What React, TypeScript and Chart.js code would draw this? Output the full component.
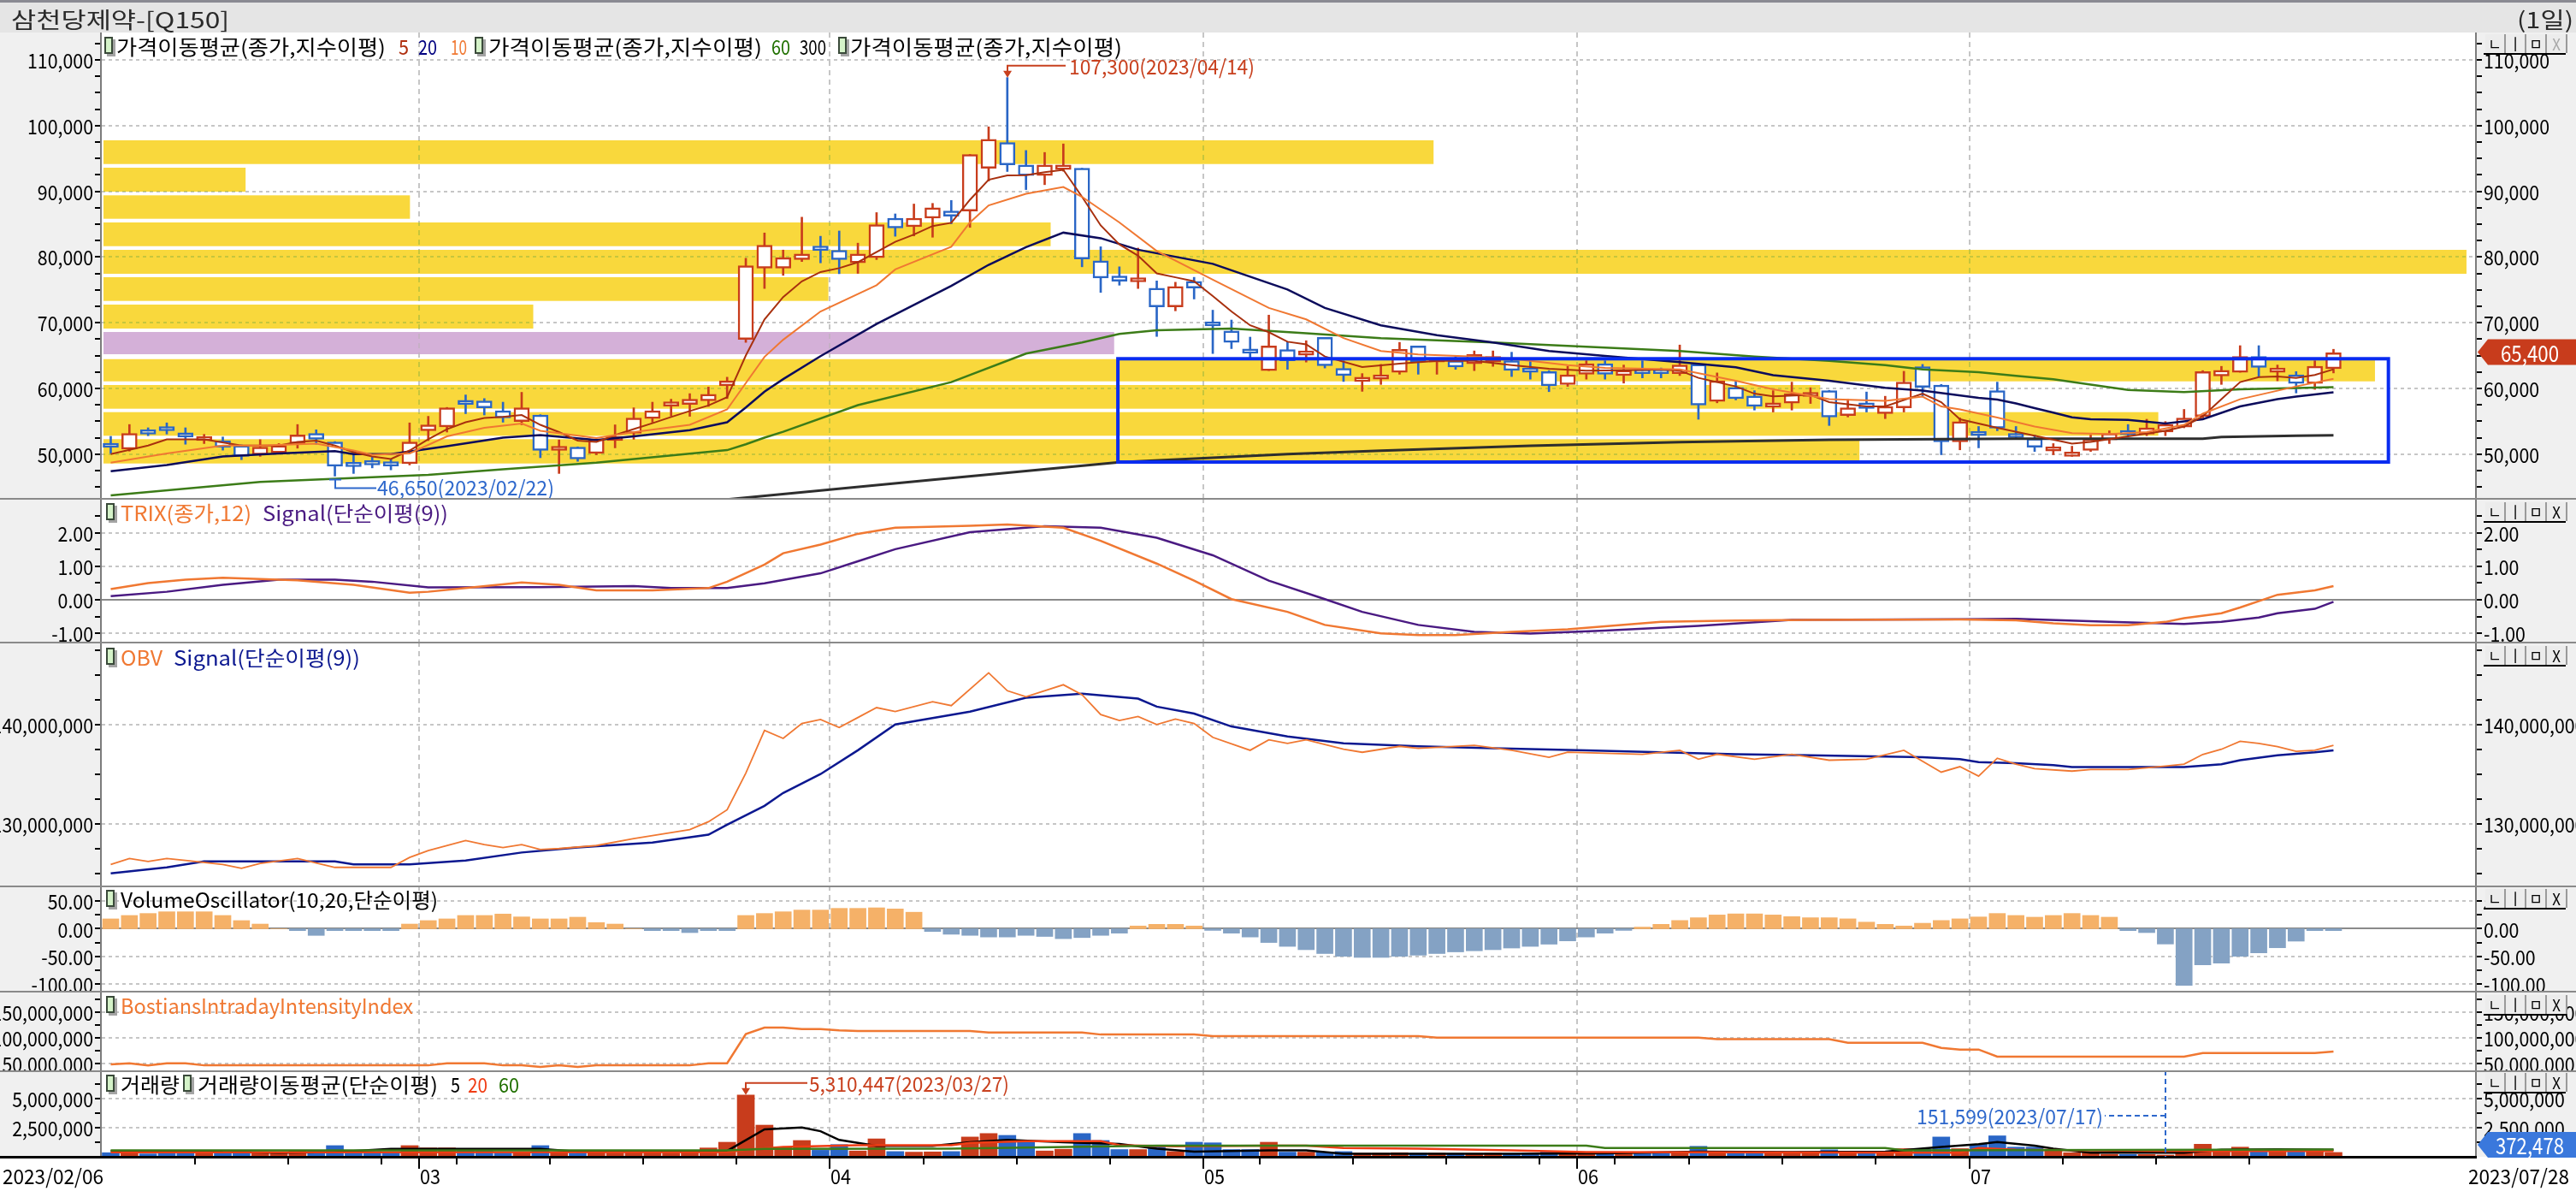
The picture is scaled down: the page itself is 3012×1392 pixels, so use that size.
import React, { useEffect, useRef } from 'react';
import { Chart, registerables } from 'chart.js';

Chart.register(...registerables);

// ------------------------------------------------------------------ data
const dates = [
  '2023/02/06','2023/02/07','2023/02/08','2023/02/09','2023/02/10','2023/02/13','2023/02/14','2023/02/15','2023/02/16','2023/02/17',
  '2023/02/20','2023/02/21','2023/02/22','2023/02/23','2023/02/24','2023/02/27','2023/02/28','2023/03/02','2023/03/03','2023/03/06',
  '2023/03/07','2023/03/08','2023/03/09','2023/03/10','2023/03/13','2023/03/14','2023/03/15','2023/03/16','2023/03/17','2023/03/20',
  '2023/03/21','2023/03/22','2023/03/23','2023/03/24','2023/03/27','2023/03/28','2023/03/29','2023/03/30','2023/03/31','2023/04/03',
  '2023/04/04','2023/04/05','2023/04/06','2023/04/07','2023/04/10','2023/04/11','2023/04/12','2023/04/13','2023/04/14','2023/04/17',
  '2023/04/18','2023/04/19','2023/04/20','2023/04/21','2023/04/24','2023/04/25','2023/04/26','2023/04/27','2023/04/28','2023/05/02',
  '2023/05/03','2023/05/04','2023/05/08','2023/05/09','2023/05/10','2023/05/11','2023/05/12','2023/05/15','2023/05/16','2023/05/17',
  '2023/05/18','2023/05/19','2023/05/22','2023/05/23','2023/05/24','2023/05/25','2023/05/26','2023/05/30','2023/05/31','2023/06/01',
  '2023/06/02','2023/06/05','2023/06/07','2023/06/08','2023/06/09','2023/06/12','2023/06/13','2023/06/14','2023/06/15','2023/06/16',
  '2023/06/19','2023/06/20','2023/06/21','2023/06/22','2023/06/23','2023/06/26','2023/06/27','2023/06/28','2023/06/29','2023/06/30',
  '2023/07/03','2023/07/04','2023/07/05','2023/07/06','2023/07/07','2023/07/10','2023/07/11','2023/07/12','2023/07/13','2023/07/14',
  '2023/07/17','2023/07/18','2023/07/19','2023/07/20','2023/07/21','2023/07/24','2023/07/25','2023/07/26','2023/07/27','2023/07/28',
];

const openP = [51400,50750,53650,54150,53150,52050,52050,51300,49900,50200,
  51600,53150,51850,48300,48700,48550,48550,53550,54150,57900,
  58100,56600,54950,55950,50550,51050,50100,52050,53150,55400,
  57300,57550,58100,60400,67450,78300,78300,79600,81250,81000,
  79100,79900,85900,84600,85900,87000,87000,93500,97400,94000,
  92400,93300,93500,79400,77100,76200,75250,72400,76300,70050,
  68750,65850,62700,65900,65050,67750,63050,61050,61400,62450,
  66450,64000,64200,63750,64000,64200,63000,62550,60600,62150,
  63750,61950,62900,62600,62250,63650,58000,60150,58850,57150,
  57750,58750,59650,55850,57800,56150,57050,63300,60500,51850,
  53200,59650,53050,52350,50450,49650,50550,52150,53300,53050,
  53350,54100,55750,61900,62450,64850,62450,62050,60750,63000];
const highP = [52700,54500,54000,54750,54000,53000,52600,51400,52200,51600,
  54500,53700,51900,50500,49650,49250,54750,55750,57100,59000,
  58450,57900,59400,56000,52150,51100,52300,54450,57050,57900,
  58350,59200,60200,61700,79800,83650,81050,86050,83150,83950,
  82100,86750,86550,88050,88150,88600,95600,99800,107300,96200,
  95900,97200,93500,81550,78500,81350,76350,76150,76900,71900,
  70400,67800,71150,67100,67250,67750,64200,62250,63650,67000,
  66450,64500,64850,65700,65700,65500,64400,62700,63350,64200,
  64200,63550,64200,63100,66600,63800,62350,61150,59650,59650,
  60950,60100,59700,58350,59450,58800,62600,63650,60600,55500,
  54200,60950,54200,52900,51600,51200,52900,53550,54500,55300,
  54950,56800,62700,63350,66500,66500,63550,62550,64200,65950];
const lowP = [50100,50450,52800,53050,51500,51600,50600,49150,49650,50000,
  50900,51500,46650,47050,47900,47600,48350,52050,53350,56150,
  55950,54850,54450,49450,47050,48900,49900,50950,52250,54850,
  55800,55750,57250,58450,67000,75200,77200,79300,79100,77450,
  77500,79600,83150,83200,83000,85050,84500,91550,93000,90250,
  91000,93050,78500,74600,75700,75200,67900,71800,73600,65300,
  66050,64650,62700,62900,64000,63100,61050,59550,60600,62150,
  62150,62150,62900,62700,63350,61800,61400,59500,60300,61400,
  61400,60800,61600,61600,61950,55300,57800,58250,56700,56400,
  56700,57700,54350,55650,56400,55400,56400,58800,49900,50650,
  50950,53550,52250,50400,49900,49650,50400,51600,52800,52800,
  52800,54000,55500,60600,62450,61800,61150,59300,59850,62350];
const closeP = [51000,53150,53050,53550,52600,52400,51050,49650,51050,51300,
  52900,52250,48150,48100,48350,48200,51850,54450,57050,57550,
  57050,55500,57050,50550,50950,49250,52250,52450,55500,56600,
  57550,58350,59100,61150,78650,81800,79900,80450,81000,79600,
  80450,84900,84400,85900,87500,86200,95600,97900,94000,92400,
  94000,94000,79700,76800,76300,76650,72400,75500,75250,69500,
  67000,65350,66450,64200,65650,63450,61950,61500,62050,65950,
  64050,64350,63250,65150,64850,62750,62450,60400,62050,63750,
  62150,62750,62250,62250,63550,57450,61150,58450,57250,57600,
  59200,59200,55650,57050,56950,57250,60950,60150,51850,54950,
  52800,53950,52500,51050,50900,50100,52250,53150,52950,54000,
  54500,55500,62550,62750,64850,63200,62800,60750,63350,65400];

// price moving averages as [day index, value]
const ma5Pts = [[0,50000],[2,51300],[3,52250],[5,52250],[7,51300],[9,51300],[10,51850],[11,52050],[12,51300],[13,50300],[14,49650],[15,49250],[16,50550],[17,52250],[18,53800],[19,54850],[20,55500],[21,55650],[22,55950],[23,54450],[24,53350],[25,52050],[26,51850],[27,52900],[28,53800],[29,54700],[30,55650],[31,56550],[32,57400],[33,58650],[34,65000],[35,70500],[36,73900],[37,76300],[38,77700],[39,78300],[40,79200],[42,82300],[43,83400],[44,84700],[45,85200],[46,88700],[47,91750],[48,92400],[49,92450],[50,92900],[51,93250],[52,89150],[53,84800],[54,81900],[55,80200],[56,77500],[57,76900],[58,76300],[59,74050],[60,71700],[61,69600],[62,68550],[63,67100],[64,66700],[65,64850],[67,63250],[69,63750],[71,64200],[73,64200],[75,63550],[77,63000],[79,62700],[81,62750],[83,62900],[84,62700],[85,61600],[87,60300],[88,59200],[89,58800],[91,59000],[92,57900],[94,57250],[95,57250],[97,59200],[98,57900],[99,55300],[101,54000],[103,52800],[105,51600],[106,51850],[108,52700],[110,53550],[111,54200],[112,55750],[113,58350],[114,60950],[115,61700],[116,61800],[117,61600],[118,62050],[119,62900]];
const ma10Pts = [[0,48700],[3,50100],[6,51300],[8,51300],[11,51600],[13,50550],[14,49900],[16,50100],[18,52700],[20,54000],[22,54650],[23,53550],[26,52450],[28,53350],[31,54450],[33,56800],[34,60800],[35,64800],[36,67400],[38,71700],[41,75700],[42,78100],[45,81550],[46,85250],[47,87850],[49,89600],[51,90650],[52,89150],[54,85250],[56,80900],[59,76550],[62,72250],[64,70500],[66,67650],[68,65700],[70,65150],[73,64850],[75,64500],[78,63550],[80,63100],[84,62900],[87,61150],[89,59850],[92,58350],[95,58100],[97,58750],[98,57250],[99,56800],[101,55550],[103,54200],[105,53200],[107,53050],[109,53350],[111,54450],[112,56150],[114,58350],[116,59650],[117,60300],[119,61450]];
const ma20Pts = [[0,47400],[3,48350],[6,49650],[9,50100],[12,50450],[13,50000],[15,50000],[18,51200],[21,52500],[23,52900],[26,52150],[28,52700],[31,53650],[33,54850],[34,57100],[35,59500],[36,61400],[38,64900],[41,69800],[45,75600],[47,78800],[49,81500],[51,83700],[53,82850],[55,81100],[59,78950],[63,75050],[65,72250],[68,69600],[71,68100],[74,67000],[77,65700],[80,64950],[84,64000],[87,63200],[89,62000],[92,61150],[95,60100],[97,59650],[100,58550],[101,58300],[102,57700],[103,57000],[104,56300],[105,55600],[106,55300],[108,55200],[110,54650],[112,55300],[114,57250],[116,58350],[117,58750],[119,59400]];
const ma60Pts = [[0,43700],[8,45750],[17,46850],[21,47700],[26,48700],[33,50600],[34,51500],[35,52500],[36,53400],[40,57450],[45,60950],[49,65300],[52,67000],[54,68300],[56,68850],[59,69050],[60,69100],[64,68400],[68,67650],[74,67000],[79,66350],[84,65700],[88,64850],[92,64200],[95,63550],[97,62900],[100,62450],[102,61900],[104,61400],[108,59750],[111,59450],[114,59850],[119,60200]];
const ma300Pts = [[33,43100],[44,46100],[54,48750],[63,50000],[68,50530],[76,51270],[84,51830],[92,52180],[102,52350],[112,52350],[113,52610],[117,52790],[119,52870]];

// price-by-volume bands (price range and length in day units)
const bandLow = [94140, 89935, 85810, 81640, 77440, 73310, 69105, 65200, 61070, 56905, 52790, 48570];
const bandHigh = [97750, 93580, 89375, 85250, 81080, 76915, 72750, 68580, 64450, 60510, 56385, 52270];
const bandLen = [71.3, 7.7, 16.5, 50.8, 126.6, 38.9, 23.1, 54.2, 121.7, 92.0, 110.1, 94.1];
const bandHighlight = 7;
const boxDays = [53.92, 121.94];
const boxPrices = [48790, 64510];

// TRIX (12) and signal
const trixPts = [[0,0.32],[2,0.5],[4,0.6],[6,0.66],[8,0.62],[10,0.58],[13,0.45],[16,0.21],[17,0.24],[19,0.35],[22,0.52],[24,0.45],[26,0.28],[29,0.28],[32,0.35],[33,0.54],[35,1.05],[36,1.39],[38,1.65],[40,1.97],[42,2.15],[46,2.21],[48,2.25],[51,2.15],[53,1.76],[56,1.08],[58,0.57],[60,0.02],[63,-0.36],[65,-0.75],[68,-1.0],[70,-1.05],[72,-1.05],[75,-0.96],[78,-0.88],[83,-0.66],[87,-0.62],[91,-0.6],[99,-0.59],[102,-0.61],[104,-0.7],[106,-0.76],[108,-0.76],[110,-0.66],[111,-0.55],[113,-0.4],[114,-0.23],[115,-0.04],[116,0.15],[118,0.28],[119,0.41]];
const trixSigPts = [[0,0.11],[3,0.24],[6,0.45],[9,0.6],[12,0.6],[14,0.54],[17,0.37],[23,0.38],[28,0.41],[30,0.35],[33,0.35],[35,0.49],[38,0.79],[40,1.15],[42,1.51],[46,2.02],[50,2.2],[53,2.15],[56,1.85],[59,1.33],[62,0.57],[65,0.02],[67,-0.36],[70,-0.75],[73,-0.96],[76,-1.01],[80,-0.92],[85,-0.78],[90,-0.6],[99,-0.58],[102,-0.57],[107,-0.66],[111,-0.72],[113,-0.66],[115,-0.53],[116,-0.4],[118,-0.27],[119,-0.06]];

// OBV and signal, in millions
const obvPts = [[0,125.9],[1,126.5],[2,126.2],[3,126.5],[4,126.3],[6,125.9],[7,125.5],[8,126.0],[10,126.5],[12,125.6],[14,125.6],[15,125.6],[16,126.6],[17,127.3],[19,128.3],[20,127.9],[21,127.6],[22,127.9],[23,127.4],[24,127.5],[26,127.8],[28,128.5],[29,128.8],[31,129.4],[32,130.2],[33,131.4],[34,135.1],[35,139.4],[36,138.6],[37,140.1],[38,140.5],[39,139.7],[40,140.7],[41,141.7],[42,141.3],[44,142.3],[45,141.9],[47,145.2],[48,143.4],[49,142.8],[51,144.0],[52,143.0],[53,141.0],[54,140.4],[55,140.8],[56,140.0],[57,140.55],[58,140.1],[59,138.7],[61,137.4],[62,138.45],[63,138.1],[64,138.45],[66,137.5],[67,137.2],[69,137.8],[70,137.6],[73,137.9],[75,137.4],[77,136.7],[78,137.2],[80,137.1],[82,137.0],[84,137.4],[85,136.5],[86,137.0],[88,136.5],[90,137.0],[92,136.4],[94,136.5],[96,137.4],[98,135.2],[99,135.75],[100,134.8],[101,136.6],[102,136.0],[103,135.55],[105,135.3],[106,135.46],[108,135.46],[110,135.8],[111,136.0],[112,136.98],[113,137.5],[114,138.3],[115,138.1],[116,137.76],[117,137.3],[118,137.4],[119,137.9]];
const obvSigPts = [[0,125.0],[3,125.6],[5,126.2],[12,126.2],[13,125.9],[16,125.9],[19,126.3],[22,127.1],[25,127.6],[29,128.1],[32,128.9],[33,129.9],[35,131.8],[36,133.1],[38,135.0],[40,137.4],[42,140.0],[46,141.3],[49,142.7],[52,143.1],[55,142.6],[56,141.8],[58,141.1],[60,139.8],[63,138.8],[66,138.1],[70,137.8],[74,137.6],[79,137.4],[83,137.2],[87,137.0],[91,136.9],[97,136.7],[99,136.5],[100,136.2],[102,136.1],[104,135.9],[105,135.7],[111,135.7],[113,136.0],[114,136.4],[116,136.9],[118,137.2],[119,137.4]];

// Volume oscillator (10,20)
const volOsc = [17.9,24.1,27.7,30.8,30.8,30.8,24.1,14.8,8.5,0,
  -3.4,-12.1,-3.4,-3.4,-3.4,-3.4,8.5,14.8,17.9,24.1,
  24.1,26.7,21.5,17.9,17.9,21.0,11.2,8.5,0,-3.4,
  -3.4,-7.0,-3.4,-3.4,24.1,27.7,30.8,33.9,33.9,37.0,
  37,38,36,30,-5,-10,-12,-15,-15,-12,
  -14,-18,-16,-12,-8,5,8,8,5,-3,
  -8,-15,-25,-32,-38,-45,-50,-52,-52,-50,
  -48,-45,-42,-40,-38,-35,-32,-28,-22,-15,
  -8,-3,3,8,15,20,25,27,27,25,
  22,20,20,18,12,8,5,10,15,18,
  21.4,27.7,24.1,21.0,24.1,27.7,24.1,21.0,-3.4,-7.0,
  -27.7,-102.8,-65.5,-62.4,-50.0,-43.8,-34.5,-22.5,-3.4,-3.4];

// Bostian's intraday intensity index, in millions
const biii = [47.8,50,46,50,50,46,46,46,46,46,46,46,46,46,46,46,46,46,50,50,
  50,46,46,43,46,43,46,46,46,46,46,46,50,50,107,119.5,119.5,116.7,116.7,114,
  113,113,113,113,113,113,113,110,110,110,110,110,110,106,106,106,106,106,106,103,
  103,103,103,103,103,103,103,103,103,103,103,100,100,100,100,100,100,100,100,100,
  100,100,100,100,100,100,97,97,97,97,97,97,97,90,90,90,90,90,80,76.7,
  76.7,62.8,62.8,62.8,62.8,62.8,62.8,62.8,62.8,62.8,62.8,62.8,70,70,70,70,70,70,70,72.8];

// volume (shares) and its moving averages
const volume = [350000,480000,250000,330000,330000,320000,330000,500000,350000,330000,
  560000,480000,960000,500000,450000,330000,960000,760000,760000,500000,
  480000,330000,350000,960000,380000,330000,350000,330000,350000,350000,
  330000,350000,760000,1250000,5310447,2720000,800000,1400000,560000,1050000,
  500000,1540000,450000,400000,420000,450000,1700000,2000000,1840000,1250000,
  500000,650000,2000000,1400000,620000,620000,900000,450000,1250000,1200000,
  620000,620000,1250000,400000,400000,400000,450000,300000,300000,350000,
  300000,300000,280000,280000,300000,280000,300000,450000,300000,300000,
  280000,280000,300000,300000,350000,900000,400000,350000,300000,300000,
  300000,300000,600000,300000,300000,350000,700000,650000,1700000,700000,
  1080000,1800000,830000,830000,510000,350000,350000,220000,200000,200000,
  151599,510000,1080000,510000,830000,510000,510000,510000,510000,372478];
const volMa5Pts = [[0,500000],[5,500000],[6,420000],[9,350000],[12,400000],[15,680000],[23,680000],[25,450000],[33,500000],[35,2350000],[37,2520000],[38,2200000],[39,1450000],[41,930000],[44,930000],[46,1250000],[48,1450000],[51,1250000],[54,1100000],[56,700000],[58,450000],[62,550000],[64,550000],[66,250000],[75,250000],[80,300000],[85,450000],[90,400000],[95,450000],[98,850000],[100,1080000],[101,1270000],[103,950000],[104,700000],[106,350000],[111,350000],[113,600000],[116,650000],[119,600000]];
const volMa20Pts = [[0,380000],[33,400000],[34,600000],[36,850000],[40,1000000],[45,1000000],[46,1200000],[49,1350000],[53,1350000],[54,1000000],[57,900000],[62,950000],[64,950000],[66,750000],[70,700000],[75,550000],[79,400000],[99,350000],[100,750000],[102,600000],[110,500000],[119,500000]];
const volMa60Pts = [[0,550000],[33,550000],[35,680000],[45,700000],[56,950000],[79,950000],[80,760000],[95,760000],[96,550000],[119,620000]];

// ------------------------------------------------------------------ look
const W = 3012;
const PAD_L = 119;
const PAD_R = 118;
const X_MIN = -0.48;
const X_MAX = 126.58;
const FONT = '"Noto Sans CJK KR", "Noto Sans", sans-serif';
const UP = '#c83c1c';
const DOWN = '#2a66c6';
const UP_TXT = '#c8401e';
const DOWN_TXT = '#2e68cc';
const ORANGE = '#f07832';

const monthStarts = dates.map((d, i) => (i > 0 && d.slice(5, 7) !== dates[i - 1].slice(5, 7) ? i : -1)).filter((i) => i >= 0);
const weekStarts = dates
  .map((d, i) => {
    if (i === 0) return -1;
    const a = new Date(d.replace(/\//g, '-') + 'T00:00:00Z').getUTCDay();
    const b = new Date(dates[i - 1].replace(/\//g, '-') + 'T00:00:00Z').getUTCDay();
    return a < b ? i : -1;
  })
  .filter((i) => i >= 0);

const candleColor = closeP.map((c, i) => (c >= openP[i] ? UP : DOWN));
const toXY = (pts: number[][]) => pts.map((p) => ({ x: p[0], y: p[1] }));
const fmtN = (v: number) => Math.round(v).toLocaleString('en-US');

type TxtOpt = { size?: number; color?: string; align?: string; width?: number };
function txt(ctx: CanvasRenderingContext2D, s: string, x: number, y: number, o: TxtOpt = {}) {
  const size = o.size ?? 24;
  ctx.save();
  ctx.font = `${size}px ${FONT}`;
  ctx.textBaseline = 'middle';
  ctx.textAlign = 'left';
  ctx.fillStyle = o.color ?? '#000';
  const nat = ctx.measureText(s).width;
  let sx: number;
  if (o.width) sx = o.width / nat;
  else sx = ((77 * size) / 24) / ctx.measureText('100,000').width;
  const w = nat * sx;
  const left = o.align === 'right' ? x - w : o.align === 'center' ? x - w / 2 : x;
  ctx.translate(left, y + 1);
  ctx.scale(sx, 1);
  ctx.fillText(s, 0, 0);
  ctx.restore();
}

function icon(ctx: CanvasRenderingContext2D, x: number, yc: number) {
  ctx.save();
  ctx.fillStyle = '#a4a4a4';
  ctx.fillRect(x + 3, yc - 8, 10, 20);
  ctx.fillStyle = '#d4f2c8';
  ctx.fillRect(x, yc - 11, 10, 20);
  ctx.strokeStyle = '#3a4a3a';
  ctx.lineWidth = 2;
  ctx.strokeRect(x + 1, yc - 10, 8, 18);
  ctx.restore();
}

function buttons(ctx: CanvasRenderingContext2D, yTop: number, dimX: boolean) {
  const x0 = 2906;
  const cw = 24;
  const h = 22;
  const glyphs = ['ㄴ', 'ㅣ', 'ㅁ', 'X'];
  ctx.save();
  for (let k = 0; k < 4; k++) {
    const x = x0 + k * cw;
    ctx.fillStyle = '#ececec';
    ctx.fillRect(x, yTop, cw - 2, h);
    ctx.fillStyle = '#9a9a9a';
    ctx.fillRect(x + cw - 2, yTop, 2, h);
    txt(ctx, glyphs[k], x + (cw - 2) / 2, yTop + h / 2, { size: 19, color: k === 3 && dimX ? '#a8a8a8' : '#000', align: 'center' });
  }
  ctx.fillStyle = '#000';
  ctx.fillRect(x0 - 2, yTop + h, 4 * cw, 2);
  ctx.restore();
}

function tag(ctx: CanvasRenderingContext2D, y: number, text: string, color: string, tw: number) {
  ctx.save();
  ctx.fillStyle = color;
  ctx.beginPath();
  ctx.moveTo(2897, y);
  ctx.lineTo(2909, y - 15);
  ctx.lineTo(W, y - 15);
  ctx.lineTo(W, y + 15);
  ctx.lineTo(2909, y + 15);
  ctx.closePath();
  ctx.fill();
  ctx.restore();
  txt(ctx, text, 2958, y, { size: 27, color: '#fff', align: 'center', width: tw });
}

type Spec = {
  key: string; top: number; h: number; padTop: number; padBottom: number;
  yMin: number; yMax: number; labels: number[]; minor: number; fmt: (v: number) => string;
  zeroSolid?: boolean; datasets: any[]; before?: (c: any) => void; after?: (c: any) => void;
  legend: (ctx: CanvasRenderingContext2D) => void; btnTop: number; dimX?: boolean;
};

function drawGrid(chart: any, spec: Spec) {
  const { ctx, chartArea: ca, scales } = chart;
  ctx.save();
  ctx.beginPath();
  ctx.rect(ca.left, ca.top, ca.right - ca.left, ca.bottom - ca.top);
  ctx.clip();
  ctx.globalCompositeOperation = 'darken';
  ctx.strokeStyle = '#c6c6c6';
  ctx.lineWidth = 2;
  ctx.setLineDash([4, 4]);
  for (const v of spec.labels) {
    if (spec.zeroSolid && v === 0) continue;
    const py = Math.round(scales.y.getPixelForValue(v));
    ctx.beginPath();
    ctx.moveTo(ca.left, py);
    ctx.lineTo(ca.right, py);
    ctx.stroke();
  }
  ctx.setLineDash([6, 5]);
  for (const m of monthStarts) {
    const px = Math.round(scales.x.getPixelForValue(m - 0.5));
    ctx.beginPath();
    ctx.moveTo(px, ca.top);
    ctx.lineTo(px, ca.bottom);
    ctx.stroke();
  }
  ctx.globalCompositeOperation = 'source-over';
  ctx.setLineDash([]);
  if (spec.zeroSolid) {
    const py = Math.round(scales.y.getPixelForValue(0));
    ctx.fillStyle = '#8a8a8a';
    ctx.fillRect(ca.left, py - 1, ca.right - ca.left, 2);
  }
  ctx.restore();
}

function drawAxes(chart: any, spec: Spec) {
  const { ctx, chartArea: ca, scales } = chart;
  ctx.save();
  ctx.fillStyle = '#7c7c7c';
  ctx.fillRect(ca.left - 2, ca.top, 2, ca.bottom - ca.top);
  ctx.fillRect(ca.right, ca.top, 2, ca.bottom - ca.top);
  ctx.fillStyle = '#000';
  const k0 = Math.ceil(spec.yMin / spec.minor - 1e-9);
  const k1 = Math.floor(spec.yMax / spec.minor + 1e-9);
  for (let k = k0; k <= k1; k++) {
    const py = Math.round(scales.y.getPixelForValue(k * spec.minor));
    if (py < ca.top + 3 || py > ca.bottom - 1) continue;
    ctx.fillRect(ca.left - 8, py - 1, 6, 2);
    ctx.fillRect(ca.right + 2, py - 1, 6, 2);
  }
  ctx.restore();
  for (const v of spec.labels) {
    const py = scales.y.getPixelForValue(v);
    txt(ctx, spec.fmt(v), ca.left - 10, py, { align: 'right' });
    txt(ctx, spec.fmt(v), ca.right + 10, py, {});
  }
}

function panelPlugin(spec: Spec) {
  return {
    id: 'panel_' + spec.key,
    beforeDraw(chart: any) {
      const { ctx, chartArea: ca } = chart;
      ctx.save();
      ctx.fillStyle = '#ffffff';
      ctx.fillRect(0, 0, chart.width, chart.height);
      ctx.fillStyle = '#f0f0f0';
      ctx.fillRect(0, ca.top, ca.left, ca.bottom - ca.top);
      ctx.fillRect(ca.right, ca.top, chart.width - ca.right, ca.bottom - ca.top);
      ctx.restore();
      if (spec.before) spec.before(chart);
    },
    beforeDatasetsDraw(chart: any) {
      drawGrid(chart, spec);
    },
    afterDraw(chart: any) {
      const { ctx } = chart;
      drawAxes(chart, spec);
      if (spec.after) spec.after(chart);
      spec.legend(ctx);
      buttons(ctx, spec.btnTop, !!spec.dimX);
      if (spec.key !== 'price') {
        ctx.save();
        ctx.fillStyle = '#8a8a8a';
        ctx.fillRect(0, 0, W, 2);
        ctx.restore();
      }
    },
  };
}

const lineDs = (pts: number[][], color: string, width: number, order = 1) => ({
  type: 'line',
  data: toXY(pts),
  borderColor: color,
  borderWidth: width,
  pointRadius: 0,
  tension: 0,
  fill: false,
  order,
});

function buildSpecs(): Spec[] {
  const price: Spec = {
    key: 'price', top: 0, h: 582, padTop: 38, padBottom: 0,
    yMin: 43324, yMax: 114153,
    labels: [50000, 60000, 70000, 80000, 90000, 100000, 110000], minor: 2500,
    fmt: (v) => fmtN(v),
    btnTop: 40, dimX: true,
    datasets: [
      lineDs(ma300Pts, '#2e2e2e', 3, 3),
      lineDs(ma60Pts, '#3c7c18', 2.5, 3),
      lineDs(ma20Pts, '#0c0c5c', 2.5, 2),
      lineDs(ma10Pts, ORANGE, 2, 1),
      lineDs(ma5Pts, '#a8300e', 2, 1),
      {
        type: 'bar',
        data: openP.map((o, i) => ({ x: i, y: [Math.min(o, closeP[i]), Math.max(o, closeP[i])] })),
        backgroundColor: '#ffffff', borderColor: candleColor, borderWidth: 2.5, borderSkipped: false,
        barThickness: 18, grouped: false, minBarLength: 5, order: 4,
      },
      {
        type: 'bar',
        data: highP.map((h, i) => ({ x: i, y: [lowP[i], h] })),
        backgroundColor: candleColor, borderWidth: 0, barThickness: 2, grouped: false, order: 5,
      },
    ],
    before(chart) {
      const { ctx, chartArea: ca, scales } = chart;
      ctx.save();
      ctx.fillStyle = '#e5e5e5';
      ctx.fillRect(0, 0, W, ca.top);
      ctx.fillStyle = '#8a8a92';
      ctx.fillRect(0, 0, W, 3);
      for (let b = 0; b < bandLow.length; b++) {
        const y0 = scales.y.getPixelForValue(bandHigh[b]);
        const y1 = scales.y.getPixelForValue(bandLow[b]);
        const x1 = Math.min(scales.x.getPixelForValue(X_MIN + bandLen[b]), ca.right);
        ctx.fillStyle = b === bandHighlight ? '#d4b0d8' : '#f9d83c';
        ctx.fillRect(ca.left + 2, y0, x1 - ca.left - 2, y1 - y0);
      }
      ctx.restore();
      txt(ctx, '삼천당제약-[Q150]', 13, 22, { size: 26, color: '#2a2a2a', width: 255 });
      txt(ctx, '(1일)', 3009, 22, { size: 26, color: '#2a2a2a', align: 'right', width: 66 });
    },
    after(chart) {
      const { ctx, scales } = chart;
      const xs = scales.x;
      const ys = scales.y;
      ctx.save();
      ctx.strokeStyle = '#0a2cf0';
      ctx.lineWidth = 4;
      const bx0 = xs.getPixelForValue(boxDays[0]);
      const bx1 = xs.getPixelForValue(boxDays[1]);
      const by0 = ys.getPixelForValue(boxPrices[1]);
      const by1 = ys.getPixelForValue(boxPrices[0]);
      ctx.strokeRect(bx0, by0, bx1 - bx0, by1 - by0);
      // highest high
      let ih = 0;
      highP.forEach((v, i) => { if (v > highP[ih]) ih = i; });
      const hx = Math.round(xs.getPixelForValue(ih));
      const hy = ys.getPixelForValue(highP[ih]);
      ctx.strokeStyle = UP_TXT;
      ctx.fillStyle = UP_TXT;
      ctx.lineWidth = 2;
      ctx.beginPath();
      ctx.moveTo(hx + 68, hy - 14);
      ctx.lineTo(hx, hy - 14);
      ctx.lineTo(hx, hy - 5);
      ctx.stroke();
      ctx.beginPath();
      ctx.moveTo(hx - 5, hy - 8);
      ctx.lineTo(hx + 5, hy - 8);
      ctx.lineTo(hx, hy);
      ctx.closePath();
      ctx.fill();
      // lowest low
      let il = 0;
      lowP.forEach((v, i) => { if (v < lowP[il]) il = i; });
      const lx = Math.round(xs.getPixelForValue(il));
      const ly = ys.getPixelForValue(lowP[il]);
      ctx.strokeStyle = DOWN_TXT;
      ctx.beginPath();
      ctx.moveTo(lx - 7, ly + 4);
      ctx.lineTo(lx + 7, ly + 4);
      ctx.moveTo(lx, ly + 4);
      ctx.lineTo(lx, ly + 14);
      ctx.lineTo(lx + 48, ly + 14);
      ctx.stroke();
      ctx.restore();
      txt(ctx, `${fmtN(highP[ih])}(${dates[ih]})`, hx + 72, hy - 14, { color: UP_TXT, width: 217 });
      txt(ctx, `${fmtN(lowP[il])}(${dates[il]})`, lx + 49, ly + 12, { color: DOWN_TXT, width: 207 });
      const last = closeP.length - 1;
      tag(ctx, ys.getPixelForValue(closeP[last]) - 1, fmtN(closeP[last]), UP, 68);
    },
    legend(ctx) {
      const y = 54;
      icon(ctx, 122, y);
      txt(ctx, '가격이동평균(종가,지수이평)', 136, y, { width: 315 });
      txt(ctx, '5', 466, y, { color: '#b03010', width: 12 });
      txt(ctx, '20', 489, y, { color: '#000080', width: 22 });
      txt(ctx, '10', 527, y, { color: ORANGE, width: 19 });
      icon(ctx, 555, y);
      txt(ctx, '가격이동평균(종가,지수이평)', 571, y, { width: 320 });
      txt(ctx, '60', 902, y, { color: '#207000', width: 22 });
      txt(ctx, '300', 935, y, { width: 31 });
      icon(ctx, 980, y);
      txt(ctx, '가격이동평균(종가,지수이평)', 994, y, { width: 318 });
    },
  };

  const trix: Spec = {
    key: 'trix', top: 582, h: 168, padTop: 0, padBottom: 0,
    yMin: -1.251, yMax: 3.04, labels: [-1, 0, 1, 2], minor: 0.5,
    fmt: (v) => v.toFixed(2), zeroSolid: true, btnTop: 5,
    datasets: [lineDs(trixSigPts, '#4a1a82', 2.5, 2), lineDs(trixPts, ORANGE, 2.5, 1)],
    legend(ctx) {
      icon(ctx, 124, 17);
      txt(ctx, 'TRIX(종가,12)', 141, 17, { color: ORANGE, width: 153 });
      txt(ctx, 'Signal(단순이평(9))', 307, 17, { color: '#4a1a82', width: 217 });
    },
  };

  const obv: Spec = {
    key: 'obv', top: 750, h: 285, padTop: 0, padBottom: 0,
    yMin: 123.77, yMax: 148.34, labels: [130, 140], minor: 2.5,
    fmt: (v) => fmtN(v * 1e6), btnTop: 5,
    datasets: [lineDs(obvSigPts, '#0c1890', 2.5, 2), lineDs(obvPts, ORANGE, 1.8, 1)],
    legend(ctx) {
      icon(ctx, 124, 18);
      txt(ctx, 'OBV', 141, 18, { color: ORANGE, width: 49 });
      txt(ctx, 'Signal(단순이평(9))', 203, 18, { color: '#0c1890', width: 218 });
    },
  };

  const vo: Spec = {
    key: 'vo', top: 1035, h: 123, padTop: 0, padBottom: 0,
    yMin: -112.6, yMax: 78.4, labels: [-100, -50, 0, 50], minor: 25,
    fmt: (v) => v.toFixed(2), zeroSolid: true, btnTop: 4,
    datasets: [{
      type: 'bar',
      data: volOsc.map((v, i) => ({ x: i, y: v })),
      backgroundColor: volOsc.map((v) => (v >= 0 ? '#f5b168' : '#84a2c4')),
      borderWidth: 0, barThickness: 19, grouped: false, order: 3,
    }],
    legend(ctx) {
      icon(ctx, 124, 16);
      txt(ctx, 'VolumeOscillator(10,20,단순이평)', 141, 16, { width: 371 });
    },
  };

  const bi: Spec = {
    key: 'biii', top: 1158, h: 93, padTop: 0, padBottom: 0,
    yMin: 36.2, yMax: 191.2, labels: [50, 100, 150], minor: 25,
    fmt: (v) => fmtN(v * 1e6), btnTop: 5,
    datasets: [lineDs(biii.map((v, i) => [i, v]), ORANGE, 2.5, 1)],
    legend(ctx) {
      icon(ctx, 124, 17);
      txt(ctx, 'BostiansIntradayIntensityIndex', 141, 17, { color: ORANGE, width: 342 });
    },
  };

  const vol: Spec = {
    key: 'vol', top: 1251, h: 141, padTop: 0, padBottom: 40,
    yMin: 0, yMax: 7426000, labels: [2500000, 5000000], minor: 1250000,
    fmt: (v) => fmtN(v), btnTop: 3,
    datasets: [
      lineDs(volMa60Pts, '#3c7c18', 2.5, 1),
      lineDs(volMa20Pts, '#f03c14', 2.5, 1),
      lineDs(volMa5Pts, '#000000', 2.5, 1),
      {
        type: 'bar',
        data: volume.map((v, i) => ({ x: i, y: v })),
        backgroundColor: candleColor, borderWidth: 0, barThickness: 20, grouped: false, order: 4,
      },
    ],
    after(chart) {
      const { ctx, chartArea: ca, scales } = chart;
      const xs = scales.x;
      const ys = scales.y;
      // bottom axis
      ctx.save();
      ctx.fillStyle = '#000';
      ctx.fillRect(0, ca.bottom - 1, ca.right + 2, 3);
      for (const w of weekStarts) {
        const px = Math.round(xs.getPixelForValue(w - 0.5));
        ctx.fillRect(px - 1, ca.bottom + 2, 2, 7);
      }
      for (const m of monthStarts) {
        const px = Math.round(xs.getPixelForValue(m - 0.5));
        ctx.fillRect(px - 1, ca.bottom + 2, 2, 12);
      }
      // max volume
      let iv = 0;
      volume.forEach((v, i) => { if (v > volume[iv]) iv = i; });
      const vx = Math.round(xs.getPixelForValue(iv));
      const vy = ys.getPixelForValue(volume[iv]);
      ctx.strokeStyle = UP_TXT;
      ctx.fillStyle = UP_TXT;
      ctx.lineWidth = 2;
      ctx.beginPath();
      ctx.moveTo(vx + 72, vy - 14);
      ctx.lineTo(vx, vy - 14);
      ctx.lineTo(vx, vy - 5);
      ctx.stroke();
      ctx.beginPath();
      ctx.moveTo(vx - 5, vy - 8);
      ctx.lineTo(vx + 5, vy - 8);
      ctx.lineTo(vx, vy);
      ctx.closePath();
      ctx.fill();
      // min volume
      let im = 0;
      volume.forEach((v, i) => { if (v < volume[im]) im = i; });
      const mx = Math.round(xs.getPixelForValue(im));
      const my = ca.top + 53;
      ctx.strokeStyle = DOWN_TXT;
      ctx.setLineDash([6, 4]);
      ctx.beginPath();
      ctx.moveTo(mx, ca.top);
      ctx.lineTo(mx, ca.bottom);
      ctx.moveTo(mx, my);
      ctx.lineTo(mx - 71, my);
      ctx.stroke();
      ctx.restore();
      txt(ctx, `${fmtN(volume[iv])}(${dates[iv]})`, vx + 74, vy - 14, { color: UP_TXT, width: 234 });
      txt(ctx, `${fmtN(volume[im])}(${dates[im]})`, mx - 73, my, { color: DOWN_TXT, align: 'right', width: 218 });
      // date labels
      const ly = ca.bottom + 22;
      txt(ctx, dates[0], 3, ly, { width: 118 });
      for (const m of monthStarts) {
        const px = Math.round(xs.getPixelForValue(m - 0.5));
        txt(ctx, dates[m].slice(5, 7), px + 1, ly, { width: 24 });
      }
      txt(ctx, dates[dates.length - 1], 3004, ly, { align: 'right', width: 118 });
      const last = volume.length - 1;
      const ty = Math.min(ys.getPixelForValue(volume[last]), ca.bottom - 14);
      tag(ctx, ty, fmtN(volume[last]), '#3a78dc', 80);
    },
    legend(ctx) {
      const y = 16;
      icon(ctx, 124, y);
      txt(ctx, '거래량', 141, y, { width: 69 });
      icon(ctx, 214, y);
      txt(ctx, '거래량이동평균(단순이평)', 231, y, { width: 281 });
      txt(ctx, '5', 527, y, { width: 11 });
      txt(ctx, '20', 547, y, { color: '#f03c14', width: 23 });
      txt(ctx, '60', 583, y, { color: '#207000', width: 24 });
    },
  };

  return [price, trix, obv, vo, bi, vol];
}

const SPECS = buildSpecs();

export default function App() {
  const canvases = useRef<(HTMLCanvasElement | null)[]>([]);
  useEffect(() => {
    const charts = SPECS.map((spec, k) => {
      const canvas = canvases.current[k] as HTMLCanvasElement;
      return new Chart(canvas, {
        type: 'bar',
        data: { datasets: spec.datasets },
        options: {
          animation: false,
          responsive: false,
          maintainAspectRatio: false,
          devicePixelRatio: 1,
          events: [],
          layout: { padding: { left: PAD_L, right: PAD_R, top: spec.padTop, bottom: spec.padBottom } },
          plugins: { legend: { display: false }, tooltip: { enabled: false } },
          scales: {
            x: { type: 'linear', min: X_MIN, max: X_MAX, display: false, offset: false, grid: { display: false } },
            y: { type: 'linear', min: spec.yMin, max: spec.yMax, display: false, beginAtZero: false },
          },
        } as any,
        plugins: [panelPlugin(spec)],
      } as any);
    });
    return () => charts.forEach((c) => c.destroy());
  }, []);

  return (
    <div style={{ position: 'absolute', left: 0, top: 0, width: W, height: 1392, background: '#ffffff', overflow: 'hidden' }}>
      {SPECS.map((s, k) => (
        <canvas
          key={s.key}
          ref={(el) => { canvases.current[k] = el; }}
          width={W}
          height={s.h}
          style={{ position: 'absolute', left: 0, top: s.top, width: W, height: s.h, display: 'block' }}
        />
      ))}
    </div>
  );
}
